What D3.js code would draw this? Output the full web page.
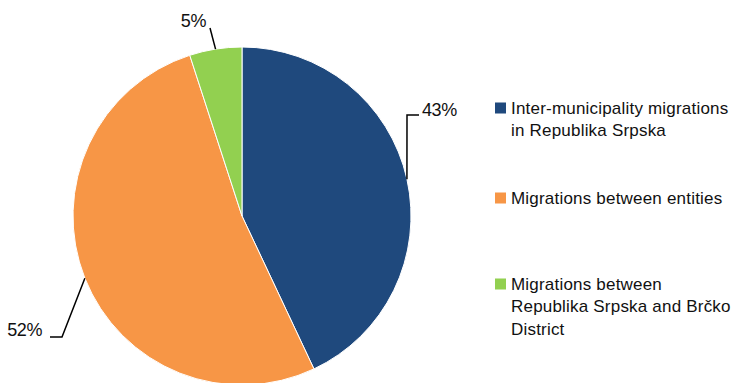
<!DOCTYPE html>
<html>
<head>
<meta charset="utf-8">
<script src="https://cdn.jsdelivr.net/npm/d3@7"></script>
<style>
  html, body { margin: 0; padding: 0; background: #fff; }
  svg { display: block; }
  text { font-family: "Liberation Sans Narrow", "Arial Narrow", "Liberation Sans", Arial, sans-serif; fill: #111; }
</style>
</head>
<body>
<svg id="chart" width="732" height="383"></svg>
<script>
// Migration types, share of total (%)
const categories = [
  "Inter-municipality migrations in Republika Srpska",
  "Migrations between entities",
  "Migrations between Republika Srpska and Brčko District"
];
const shares = [43, 52, 5];
const legendLines = [
  ["Inter-municipality migrations", "in Republika Srpska"],
  ["Migrations between entities"],
  ["Migrations between", "Republika Srpska and Brčko", "District"]
];
const colors = ["#1f497d", "#f79646", "#92d050"];

const svg = d3.select("#chart");
const cx = 242, cy = 216, radius = 169;

const pie = d3.pie().sort(null).value(d => d);
const arcs = pie(shares);
const arc = d3.arc().innerRadius(0).outerRadius(radius);
const color = d3.scaleOrdinal().domain(d3.range(shares.length)).range(colors);

const g = svg.append("g").attr("transform", `translate(${cx},${cy})`);
g.selectAll("path.slice")
  .data(arcs)
  .join("path")
  .attr("class", "slice")
  .attr("d", arc)
  .attr("fill", (d, i) => color(i))
  .attr("stroke", "#fff")
  .attr("stroke-width", 1);

// Leader lines: start on the rim at each slice's mid-angle, then bend to the label
const polar = (a, r) => [r * Math.sin(a), -r * Math.cos(a)];
const leaders = [
  { bend: [165, -101], end: [177, -101], label: [180, -106], anchor: "start" },
  { bend: [-180, 121], end: [-192, 121], label: [-200, 114], anchor: "end" },
  { bend: [-32, -188], end: [-32, -188], label: [-36, -195], anchor: "end" }
];

arcs.forEach((d, i) => {
  const mid = (d.startAngle + d.endAngle) / 2;
  const start = polar(mid, radius);
  const L = leaders[i];
  g.append("path")
    .attr("d", d3.line()([start, L.bend, L.end]))
    .attr("fill", "none")
    .attr("stroke", "#000")
    .attr("stroke-width", 1.5);
  g.append("text")
    .attr("x", L.label[0])
    .attr("y", L.label[1])
    .attr("dy", "0.35em")
    .attr("text-anchor", L.anchor)
    .style("font-size", "18px")
    .style("letter-spacing", "-0.4px")
    .text(d3.format(".0f")(d.data) + "%");
});

// Legend
const legendX = 495;
const legendTops = [96, 186, 272];
const legend = svg.append("g");
categories.forEach((c, i) => {
  const lg = legend.append("g").attr("transform", `translate(${legendX},${legendTops[i]})`);
  lg.append("rect")
    .attr("x", 0).attr("y", 6.5)
    .attr("width", 11).attr("height", 11)
    .attr("fill", color(i));
  const t = lg.append("text")
    .attr("x", 16)
    .attr("y", 17.5)
    .style("font-size", "17px")
    .style("letter-spacing", "0.2px");
  legendLines[i].forEach((line, j) => {
    t.append("tspan")
      .attr("x", 16)
      .attr("dy", j === 0 ? 0 : 22.5)
      .text(line);
  });
});
</script>
</body>
</html>
